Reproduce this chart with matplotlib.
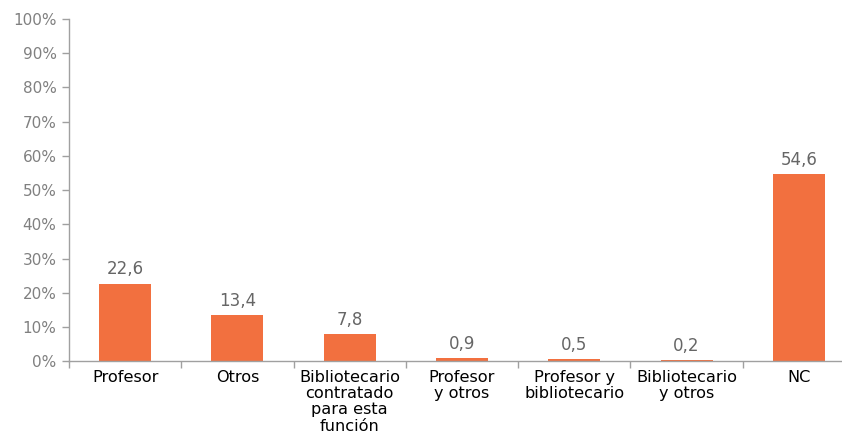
import matplotlib
matplotlib.use("Agg")
import matplotlib.pyplot as plt
import numpy as np

categories = ["Profesor", "Otros", "Bibliotecario\ncontratado\npara esta\nfunción",
              "Profesor\ny otros", "Profesor y\nbibliotecario", "Bibliotecario\ny otros", "NC"]
values = [22.6, 13.4, 7.8, 0.9, 0.5, 0.2, 54.6]
value_labels = ["22,6", "13,4", "7,8", "0,9", "0,5", "0,2", "54,6"]
yticks = list(range(0, 101, 10))
ytick_labels = [f"{t}%" for t in yticks]

plt.rcParams['font.family'] = ['DejaVu Sans']
fig = plt.figure(figsize=(8.42, 4.41), dpi=100)
ax = fig.add_axes([69 / 842, 0.181, 786 / 842, 0.776])

x = np.arange(len(categories))
bar_color = "#F2703F"
ax.bar(x, values, width=0.463, color=bar_color, zorder=2)
for xi, v, lab in zip(x, values, value_labels):
    ax.text(xi, v + 1.6, lab, ha="center", va="bottom", fontsize=12, color="#666666")

ax.set_xlim(-0.5, len(categories) - 0.5)
ax.set_ylim(0, 100)
ax.set_yticks(yticks)
ax.set_yticklabels(ytick_labels, fontsize=11, color="#808080")
ax.set_xticks(x)
ax.set_xticklabels(categories, fontsize=11.6, color="black", linespacing=1.12, va="top")
ax.set_xticks(np.arange(-0.5, len(categories) - 1), minor=True)
ax.tick_params(axis="x", which="major", length=0, pad=6)
ax.tick_params(axis="x", which="minor", length=5, color="#A0A0A0", width=1)
ax.tick_params(axis="y", length=5, color="#A0A0A0", width=1, pad=4)

for s in ["top", "right"]:
    ax.spines[s].set_visible(False)
for s in ["left", "bottom"]:
    ax.spines[s].set_color("#A0A0A0")
    ax.spines[s].set_linewidth(1)

fig.savefig("out.png", dpi=100)
